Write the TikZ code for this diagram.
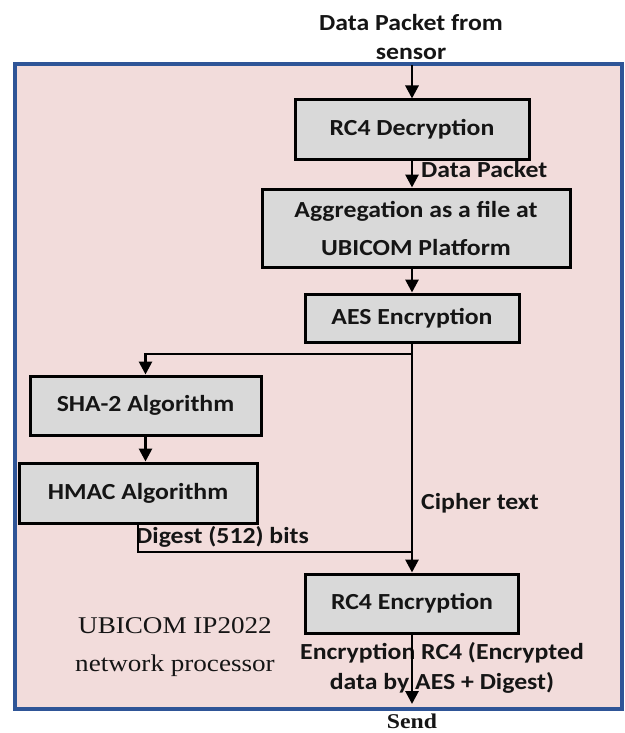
\documentclass[tikz,border=0pt]{standalone}
\usepackage{fontspec}
\setmainfont{Carlito}
\newfontfamily\boxfont[FakeStretch=1.12]{Carlito}
\newfontfamily\plainserif[FakeStretch=1.13]{Liberation Serif}
\usetikzlibrary{arrows.meta}

\definecolor{panelpink}{HTML}{F2DCDB}
\definecolor{panelblue}{HTML}{2F5597}
\definecolor{boxgray}{HTML}{D9D9D9}
\definecolor{inktext}{HTML}{151515}

\begin{document}
\begin{tikzpicture}[x=1pt,y=-1pt,
  stagebox/.style={draw=black, line width=3pt, fill=boxgray, inner sep=0pt,
    align=center, text=inktext, font=\boxfont\bfseries\fontsize{23}{38}\selectfont},
  lbl/.style={inner sep=0pt, text=inktext, font=\boxfont\bfseries\fontsize{23}{30}\selectfont},
  serifnote/.style={inner sep=0pt, align=center, text=inktext,
    font=\plainserif\fontsize{24}{38}\selectfont},
  wire/.style={line width=2.8pt},
  flow/.style={line width=2.8pt, -{Triangle[width=13pt,length=13pt]}}]

\useasboundingbox (0,0) rectangle (624,733);

% processor panel
\draw[panelblue, line width=3.5pt, fill=panelpink] (15,64) rectangle (622,709);

% incoming data
\node[lbl, align=center, font=\boxfont\bfseries\fontsize{23}{29}\selectfont] (src) at (411,37) {Data Packet from\\sensor};
\coordinate (inlet) at (412,65);

% processing stages
\node[stagebox, minimum width=234pt, minimum height=59pt] (rc4d) at (412,129.5) {RC4 Decryption};
\node[stagebox, minimum width=308pt, minimum height=78pt] (agg) at (416,228) {Aggregation as a file at\\UBICOM Platform};
\node[stagebox, minimum width=214pt, minimum height=48pt] (aes) at (412,318) {AES Encryption};
\node[stagebox, minimum width=231pt, minimum height=59pt] (sha) at (145.5,405.5) {SHA-2 Algorithm};
\node[stagebox, minimum width=238pt, minimum height=60pt] (hmac) at (138,493) {HMAC Algorithm};
\node[stagebox, minimum width=213pt, minimum height=59pt] (rc4e) at (412,603.5) {RC4 Encryption};

% labels
\node[lbl, anchor=west] (dp) at (421,170) {Data Packet};
\node[lbl, anchor=west] (ct) at (421,503) {Cipher text};
\node[lbl, anchor=west] (dg) at (136,537) {Digest (512) bits};
\node[lbl, align=center] (enc) at (442,668) {Encryption RC4 (Encrypted\\data by AES + Digest)};
\node[serifnote] (ip) at (175,647) {UBICOM IP2022\\network processor};
\node[inner sep=0pt, text=inktext, font=\plainserif\bfseries\fontsize{21}{24}\selectfont] (send) at (412,721) {Send};

% junction points
\coordinate (split) at (412,354);
\coordinate (join) at (412,552);
\coordinate (out) at (412,704);

% connectors
\draw[flow] (inlet) -- (inlet |- rc4d.north);
\draw[flow] (rc4d.south) -- (rc4d.south |- agg.north);
\draw[flow] (agg.south -| aes.south) -- (aes.north);
\draw[flow] (aes.south) -- (aes.south |- rc4e.north);
\draw[flow] (split) -| (sha.north);
\draw[flow] (sha.south) -- (sha.south |- hmac.north);
\draw[wire] (hmac.south) |- (join);
\draw[flow] (rc4e.south) -- (out);
\end{tikzpicture}
\end{document}
